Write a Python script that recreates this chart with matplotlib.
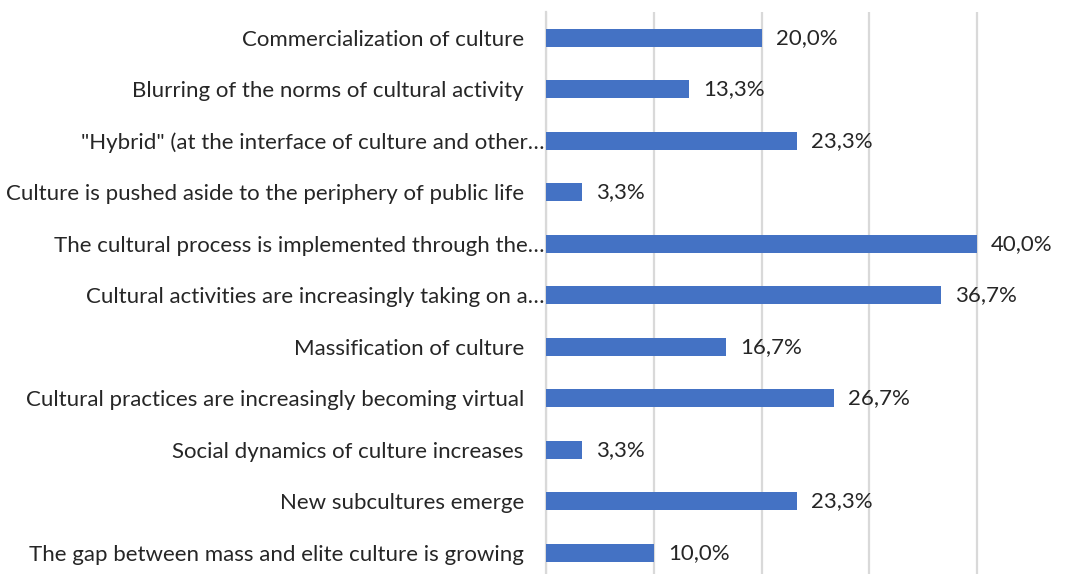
import matplotlib.pyplot as plt

categories = [
    "Commercialization of culture",
    "Blurring of the norms of cultural activity",
    "\"Hybrid\" (at the interface of culture and other\u2026",
    "Culture is pushed aside to the periphery of public life",
    "The cultural process is implemented through the\u2026",
    "Cultural activities are increasingly taking on a\u2026",
    "Massification of culture",
    "Cultural practices are increasingly becoming virtual",
    "Social dynamics of culture increases",
    "New subcultures emerge",
    "The gap between mass and elite culture is growing",
]
values = [20.0, 13.3, 23.3, 3.3, 40.0, 36.7, 16.7, 26.7, 3.3, 23.3, 10.0]
labels = ["20,0%", "13,3%", "23,3%", "3,3%", "40,0%", "36,7%",
          "16,7%", "26,7%", "3,3%", "23,3%", "10,0%"]

plt.rcParams['font.family'] = ['Lato', 'DejaVu Sans']

fig = plt.figure(figsize=(10.75, 5.74), dpi=100)
ax = fig.add_axes([546/1075, -4.5/574, (44*10.775)/1075, 566.5/574])

y = list(range(len(categories)))
ax.barh(y, values, height=0.35, color="#4472C4", zorder=3)
for yi, v, lab in zip(y, values, labels):
    ax.text(v + 1.3, yi, lab, va="center", ha="left", fontsize=16, color="#262626")

ax.set_xlim(0, 44)
ax.set_ylim(len(categories) - 0.5, -0.5)
ax.set_xticks([0, 10, 20, 30, 40])
ax.set_xticklabels([])
ax.tick_params(axis="x", length=0)
ax.tick_params(axis="y", length=0, pad=16, labelsize=16, labelcolor="#262626")
ax.set_yticks(y)
ax.set_yticklabels(categories)
# truncated labels sit right against the axis
for i, t in enumerate(ax.yaxis.get_major_ticks()):
    if categories[i].endswith("\u2026"):
        t.set_pad(1)
ax.grid(axis="x", color="#d9d9d9", linewidth=1.6, zorder=0)
for s in ["top", "right", "bottom"]:
    ax.spines[s].set_visible(False)
ax.spines["left"].set_color("#d9d9d9")
ax.spines["left"].set_linewidth(1.6)

fig.savefig("out.png", dpi=100)
